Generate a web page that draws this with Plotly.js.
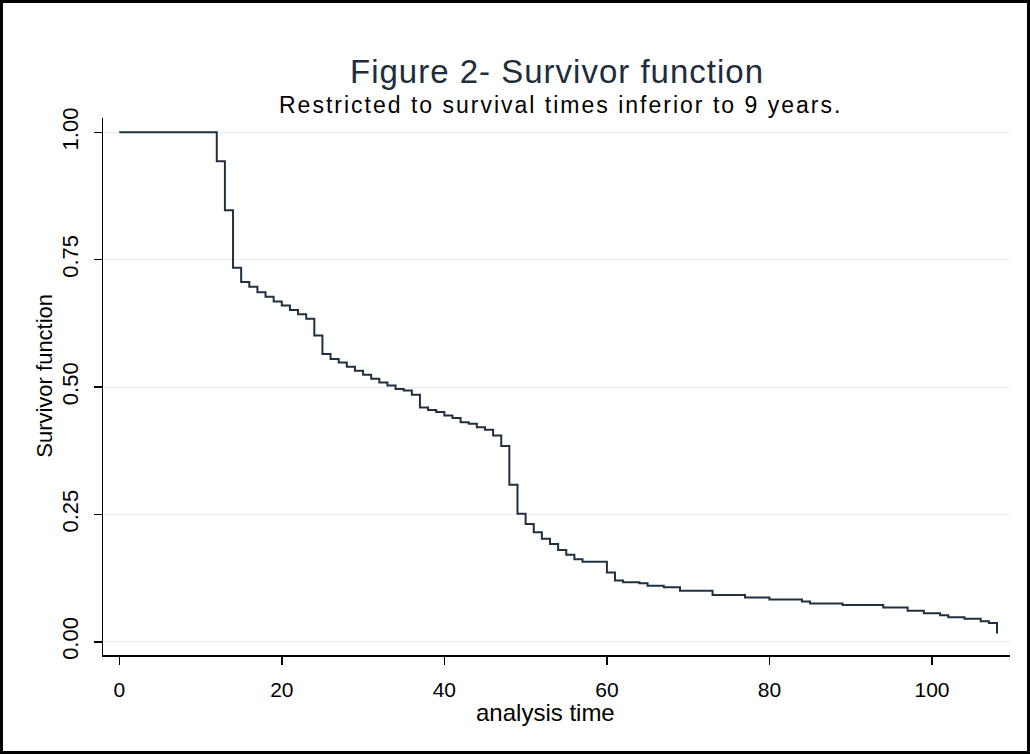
<!DOCTYPE html>
<html>
<head>
<meta charset="utf-8">
<script src="https://cdn.plot.ly/plotly-3.0.1.min.js"></script>
<style>
  html, body { margin: 0; padding: 0; background: #ffffff; }
  #frame { width: 1024px; height: 748px; border: 3px solid #000; background: #fff; }
  #chart { width: 1024px; height: 748px; }
</style>
</head>
<body>
<div id="frame"><div id="chart"></div></div>
<script>
// Kaplan-Meier step points: analysis time (months) and survivor function after each step
const analysisTime = [0, 12, 13, 14, 15, 16, 17, 18, 19, 20, 21, 22, 23, 24, 25, 26, 27, 28, 29, 30,
  31, 32, 33, 34, 35, 36, 37, 38, 39, 40, 41, 42, 43, 44, 45, 46, 47, 48, 49, 50,
  51, 52, 53, 54, 55, 56, 57, 60, 61, 62, 64, 65, 67, 69, 73, 77, 80, 84, 85, 89,
  94, 97, 99, 101, 102, 104, 106, 107, 108];
const survivor = [1.000, 0.943, 0.847, 0.734, 0.706, 0.697, 0.686, 0.677, 0.668, 0.660, 0.651, 0.643, 0.634, 0.601, 0.565, 0.555, 0.548, 0.540, 0.532, 0.524,
  0.516, 0.509, 0.503, 0.496, 0.493, 0.485, 0.460, 0.455, 0.451, 0.444, 0.439, 0.431, 0.428, 0.421, 0.416, 0.405, 0.384, 0.308, 0.251, 0.231,
  0.215, 0.202, 0.192, 0.180, 0.171, 0.162, 0.157, 0.136, 0.120, 0.117, 0.115, 0.110, 0.107, 0.100, 0.092, 0.087, 0.083, 0.079, 0.075, 0.072,
  0.067, 0.061, 0.056, 0.052, 0.048, 0.045, 0.040, 0.037, 0.016];
const xTickVals = [0, 20, 40, 60, 80, 100];
const yTickVals = [0, 0.25, 0.5, 0.75, 1];
const yTickText = ["0.00", "0.25", "0.50", "0.75", "1.00"];
const titleText = "Figure 2- Survivor function";
const subtitleText = "Restricted to survival times inferior to 9 years.";
const xTitle = "analysis time";
const yTitle = "Survivor function";

const FONT = "Liberation Sans, Arial, sans-serif";

const trace = {
  x: analysisTime,
  y: survivor,
  type: "scatter",
  mode: "lines",
  line: { shape: "hv", color: "#1f3140", width: 2 },
  hoverinfo: "skip"
};

const layout = {
  width: 1024,
  height: 748,
  margin: { l: 100, r: 17, t: 115, b: 96 },
  paper_bgcolor: "#ffffff",
  plot_bgcolor: "#ffffff",
  showlegend: false,
  font: { family: FONT, color: "#000000" },
  xaxis: {
    range: [-2, 109.6],
    tickvals: xTickVals,
    ticks: "outside",
    ticklen: 8,
    tickwidth: 1.5,
    tickcolor: "#000000",
    showline: true,
    linecolor: "#000000",
    linewidth: 1.5,
    showgrid: false,
    zeroline: false,
    tickfont: { family: FONT, size: 21, color: "#000000" },
    ticklabelstandoff: 7
  },
  yaxis: {
    range: [-0.026, 1.028],
    tickvals: yTickVals,
    ticktext: yTickText,
    tickangle: -90,
    ticks: "outside",
    ticklen: 8,
    tickwidth: 1.5,
    tickcolor: "#000000",
    showline: true,
    linecolor: "#000000",
    linewidth: 1.5,
    showgrid: true,
    gridcolor: "#eaeef0",
    gridwidth: 1,
    zeroline: false,
    tickfont: { family: FONT, size: 22, color: "#000000" },
    ticklabelstandoff: 7
  },
  annotations: [
    { text: '<span style="letter-spacing:1px">' + titleText + '</span>', xref: "paper", yref: "paper",
      x: 0.5006, y: 1, xanchor: "center", yanchor: "middle",
      yshift: 47, showarrow: false, font: { family: FONT, size: 33, color: "#1e2d3b" } },
    { text: '<span style="letter-spacing:2px">' + subtitleText + '</span>', xref: "paper", yref: "paper",
      x: 0.504, y: 1, xanchor: "center", yanchor: "middle",
      yshift: 13, showarrow: false, font: { family: FONT, size: 23, color: "#000000" } },
    { text: xTitle, xref: "paper", yref: "paper", x: 0.488, y: 0, xanchor: "center", yanchor: "middle",
      yshift: -57, showarrow: false, font: { family: FONT, size: 24, color: "#000000" } },
    { text: yTitle, xref: "paper", yref: "paper", x: 0, y: 0.52, xanchor: "center", yanchor: "middle",
      xshift: -58, textangle: -90, showarrow: false, font: { family: FONT, size: 22, color: "#000000" } }
  ]
};

Plotly.newPlot("chart", [trace], layout, { displayModeBar: false, staticPlot: true });
</script>
</body>
</html>
